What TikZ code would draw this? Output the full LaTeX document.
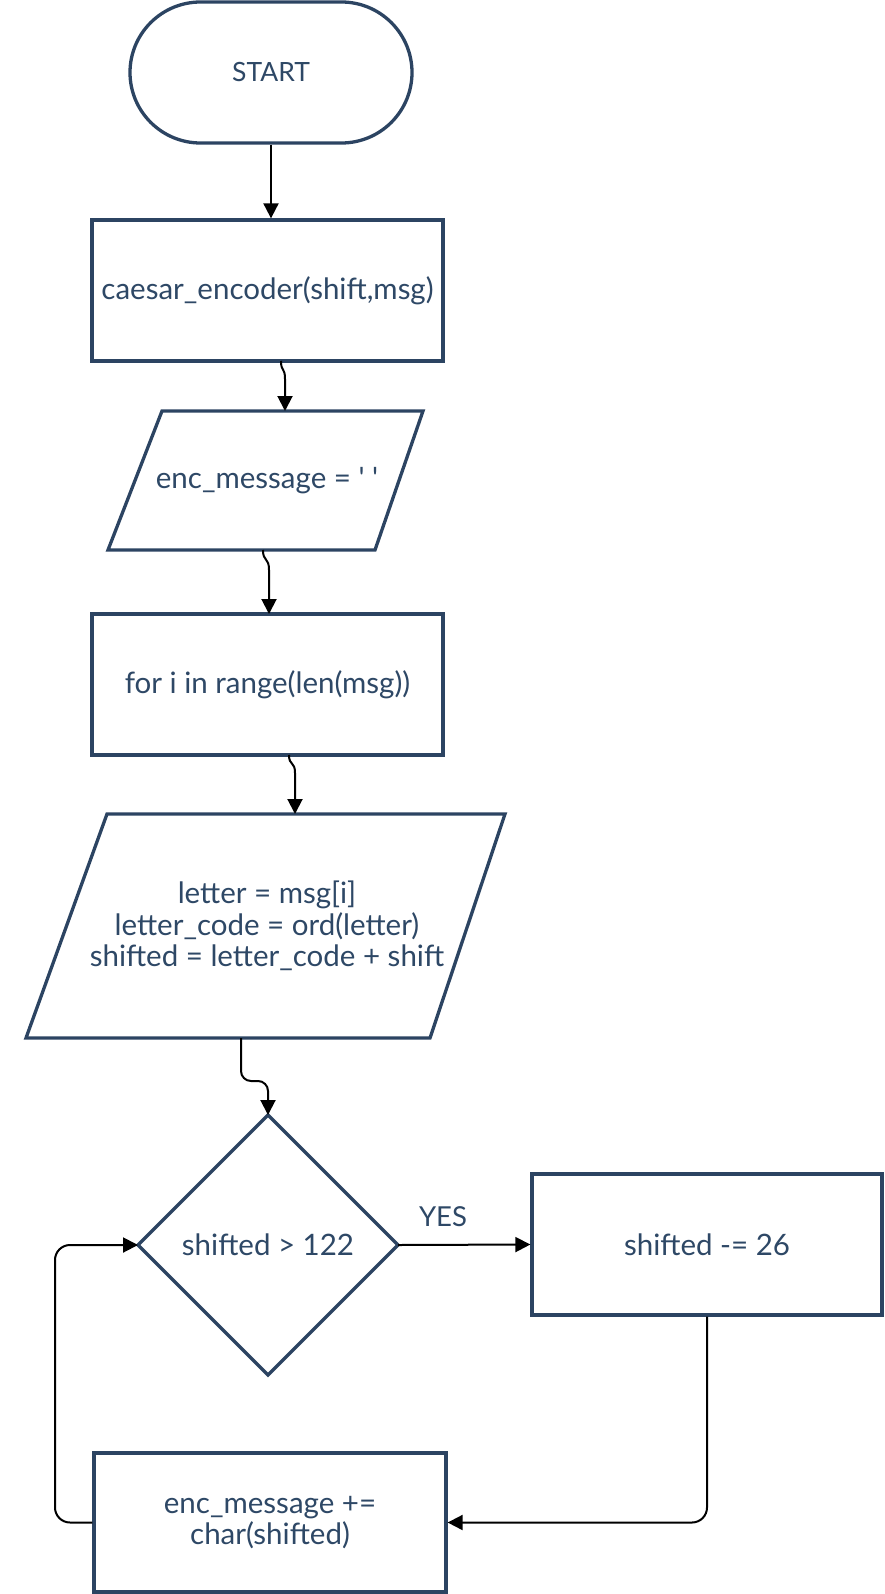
\documentclass[tikz,border=0pt]{standalone}
\usepackage{fontspec}
\setmainfont{Lato}[Ligatures=TeXOff]
\usetikzlibrary{arrows.meta}
\definecolor{shapecol}{HTML}{2C4462}
\definecolor{txtcol}{HTML}{2E4866}
\begin{document}
\begin{tikzpicture}[x=1pt,y=-1pt,
  shp/.style={draw=shapecol, line width=3.3pt, fill=white},
  lbl/.style={text=txtcol, font=\fontsize{29.5}{31.5}\selectfont, align=center, inner sep=0pt},
  boxnode/.style={shp, lbl, minimum width=351pt, minimum height=141pt, inner sep=0pt},
  conn/.style={draw=black, line width=2pt, -{Triangle[length=15pt,width=15pt]}}]
\useasboundingbox (0,0) rectangle (884,1594);

% START terminator
\node[shp, lbl, font=\fontsize{26.5}{31.5}\selectfont, rounded corners=70.5pt, minimum width=282pt, minimum height=141pt] (start) at (271,72.5) {START};

% boxes
\node[boxnode] (b1) at (267.5,290.5) {caesar\_encoder(shift,msg)};
\node[boxnode] (b2) at (267.5,684.5) {for i in range(len(msg))};
\node[boxnode, minimum width=350pt] (b3) at (707,1244.5) {shifted -= 26};
\node[boxnode, minimum width=352pt, minimum height=139pt] (b4) at (270,1522.5) {enc\_message +=\\char(shifted)};

% parallelogram 1
\draw[shp, line join=miter] (162,411) -- (423,411) -- (375,550) -- (108,550) -- cycle;
\node[lbl] (p1) at (267,481) {enc\_message = ' '};
% parallelogram 2
\draw[shp, line join=miter] (107,814) -- (505,814) -- (430,1038) -- (26,1038) -- cycle;
\node[lbl] (p2) at (267,926) {letter = msg[i]\\letter\_code = ord(letter)\\shifted = letter\_code + shift};
% diamond
\draw[shp, line join=miter] (268,1115) -- (398,1245) -- (268,1375) -- (138,1245) -- cycle;
\node[lbl] (d) at (268,1245) {shifted > 122};

% connector end points on the drawn outlines
\coordinate (b1out) at (281,361);
\coordinate (p1in) at (285,411);
\coordinate (p1out) at (263,550);
\coordinate (b2in) at (269,614);
\coordinate (b2out) at (289,755);
\coordinate (p2in) at (295,814);
\coordinate (p2out) at (241,1038);
\coordinate (dtop) at (268,1115);
\coordinate (dright) at (398,1245);
\coordinate (dleft) at (138,1245);
\coordinate (loopc) at (55,1245);

% connectors
\draw[conn] (start.south) -- (start.south |- b1.north);
\draw[conn] (b1out) .. controls (281,372) and (285,367) .. (285,379) -- (p1in);
\draw[conn] (p1out) .. controls (263,562) and (269,557) .. (269,570) -- (b2in);
\draw[conn] (b2out) .. controls (289,766) and (295,761) .. (295,773) -- (p2in);
\draw[conn, rounded corners=10pt] (p2out) -- ++(0,43) -| (dtop);
\draw[conn] (dright) -- (b3.west);
\node[lbl, font=\fontsize{27.5}{30}\selectfont] (yes) at (443,1217) {YES};
\draw[conn, rounded corners=15pt] (b3.south) |- (b4.east);
\draw[conn, rounded corners=15pt] (b4.west) -| (loopc) -- (dleft);
\end{tikzpicture}
\end{document}
